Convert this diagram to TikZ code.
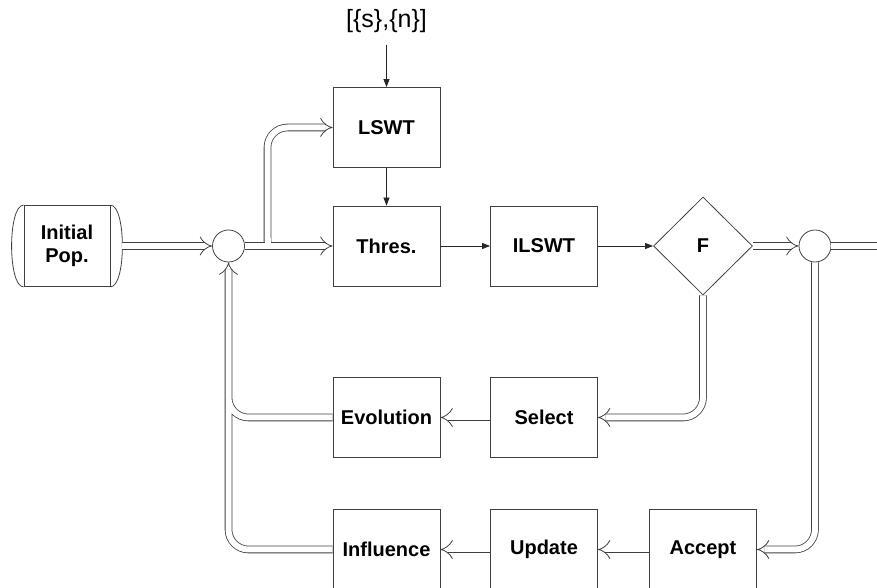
\documentclass[tikz,border=0pt]{standalone}
\usepackage{fontspec}
\setmainfont{Liberation Sans}
\usetikzlibrary{arrows.meta, shapes.geometric}

\begin{document}
\begin{tikzpicture}[
  x=1pt, y=1pt,
  block/.style={draw=black!75, line width=0.8pt, rectangle, minimum width=107pt, minimum height=80pt, font=\fontsize{20}{23}\selectfont\bfseries, align=center},
  junction/.style={draw=black!75, line width=0.8pt, circle, minimum size=32pt, inner sep=0pt},
  decision/.style={draw=black!75, line width=0.8pt, diamond, minimum width=99pt, minimum height=98pt, inner sep=0pt, font=\fontsize{20}{23}\selectfont\bfseries},
  signal/.style={draw=black!85, line width=0.8pt, -{Triangle[length=8pt,width=6pt]}},
  flow/.style={draw=black!75, line width=0.8pt, double, double distance=6pt, rounded corners=20pt},
  gap/.style={draw=white, line width=6pt},
  >={Implies}
]
  \useasboundingbox (0,0) rectangle (877,588);

  \node[block, minimum width=86pt, minimum height=81pt] (pop) at (67,342) {Initial\\Pop.};
  \node[junction] (sumin)  at (228.5,342) {};
  \node[block]    (lswt)   at (386.5,460.5) {LSWT};
  \node[block]    (thres)  at (386.5,342) {Thres.};
  \node[block]    (ilswt)  at (544,342) {ILSWT};
  \node[decision] (fit)    at (703,342) {F};
  \node[junction] (sumout) at (815,342) {};
  \node[block]    (evol)   at (386.5,170.5) {Evolution};
  \node[block]    (select) at (544,170.5) {Select};
  \node[block]    (infl)   at (386.5,38.5) {Influence};
  \node[block]    (update) at (544,38.5) {Update};
  \node[block]    (accept) at (703,38.5) {Accept};
  \node[font=\fontsize{25}{28}\selectfont, inner sep=12pt] (param) at (386.5,567) {[\{s\},\{n\}]};

  \coordinate (split) at (267.5,342);
  \coordinate (merge) at (228.5,200);
  \coordinate (exit)  at (880,342);

  \draw[draw=black!75, line width=0.8pt] (pop.north west) .. controls +(-16,0) and +(-16,0) .. (pop.south west);
  \draw[draw=black!75, line width=0.8pt] (pop.north east) .. controls +(16,0) and +(16,0) .. (pop.south east);

  \draw[signal] (param.south) -- (lswt.north);
  \draw[signal] (lswt.south) -- (thres.north);
  \draw[signal] (thres.east) -- (ilswt.west);
  \draw[signal] (ilswt.east) -- (fit.west);

  \draw[flow, ->] ([xshift=12pt]pop.east) -- (sumin.west);
  \draw[flow, ->] (split) |- (lswt.west);
  \draw[flow, ->] (sumin.east) -- (thres.west);
  \draw[gap] (split) -- ++(0,8);
  \draw[flow, ->] (fit.east) -- (sumout.west);
  \draw[flow] (sumout.east) -- (exit);
  \draw[flow, ->] (fit.south) |- (select.east);
  \draw[flow, ->] (select.west) -- (evol.east);
  \draw[flow, ->] (sumout.south) |- (accept.east);
  \draw[flow, ->] (accept.west) -- (update.east);
  \draw[flow, ->] (update.west) -- (infl.east);
  \draw[flow, ->] (infl.west) -| (merge) (evol.west) -| (sumin.south);
\end{tikzpicture}
\end{document}
